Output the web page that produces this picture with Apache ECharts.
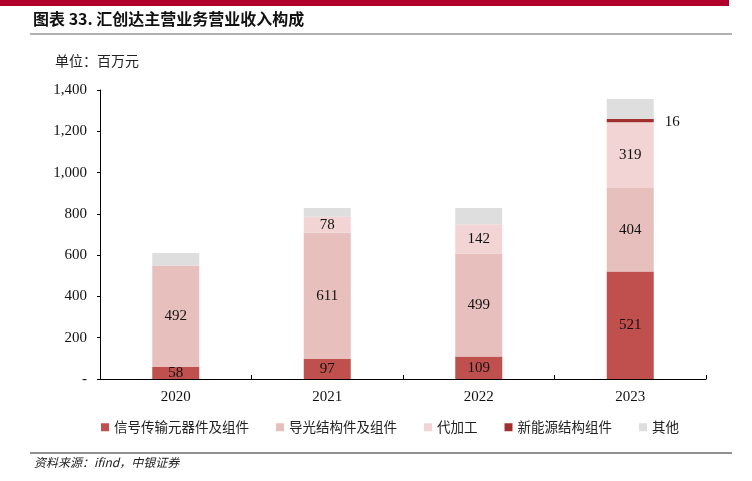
<!DOCTYPE html>
<html><head><meta charset="utf-8">
<script src="https://cdn.jsdelivr.net/npm/echarts@6/dist/echarts.min.js"></script>
<style>html,body{margin:0;padding:0;background:#fff}#c{width:752px;height:481px}</style>
</head><body><div id="c"></div>
<script>
const categories = ['2020', '2021', '2022', '2023'];
const seriesNames = ['信号传输元器件及组件', '导光结构件及组件', '代加工', '新能源结构组件', '其他'];
const signal = [58, 97, 109, 521];
const lightGuide = [492, 611, 499, 404];
const oem = [0, 78, 142, 319];
const newEnergy = [0, 0, 0, 16];
const others = [60, 42, 78, 96];
const yTicks = [0, 200, 400, 600, 800, 1000, 1200, 1400];

const colors = ['#C0504D', '#E7BFBD', '#F2D4D5', '#A0302E', '#DEDEDE'];
const serif = 'Liberation Serif';
const cjk = 'Noto Sans CJK SC';

const chart = echarts.init(document.getElementById('c'));
function lbl(pos) {
  return {
    show: true, position: pos || 'inside', color: '#111', fontFamily: serif, fontSize: 15,
    formatter: p => p.value > 0 ? p.value : ''
  };
}
const dataSets = [signal, lightGuide, oem, newEnergy, others];
const series = dataSets.map((d, i) => ({
  name: seriesNames[i], type: 'bar', stack: 'total', barWidth: 47,
  data: d, itemStyle: { color: colors[i] },
  label: i === 4 ? { show: false } : (i === 3 ? Object.assign(lbl('right'), { offset: [6, 2] }) : lbl()),
  emphasis: { disabled: true }
}));
chart.setOption({
  animation: false,
  color: colors,
  grid: { left: 100, right: 46, top: 90, bottom: 102 },
  legend: {
    bottom: 42, left: 96, itemWidth: 8, itemHeight: 8, itemGap: 27, icon: 'rect',
    textStyle: { fontFamily: cjk, fontSize: 13.5, color: '#222' },
    data: seriesNames
  },
  xAxis: {
    type: 'category', data: categories,
    axisLine: { lineStyle: { color: '#000', width: 1 } },
    axisTick: { show: true, inside: true, length: 4, lineStyle: { color: '#000' } },
    axisLabel: { fontFamily: serif, fontSize: 15, color: '#111', margin: 11 }
  },
  yAxis: {
    type: 'value', min: yTicks[0], max: yTicks[yTicks.length - 1], interval: 200,
    splitLine: { show: false },
    axisLine: { show: true, lineStyle: { color: '#000', width: 1 } },
    axisTick: { show: true, length: 3, lineStyle: { color: '#000' } },
    axisLabel: { fontFamily: serif, fontSize: 15, color: '#111', margin: 13,
      formatter: v => v === 0 ? '-' : v.toLocaleString('en-US') }
  },
  series: series,
  graphic: [
    { type: 'rect', left: 0, top: 0, shape: { width: 729, height: 6 }, style: { fill: '#B00029' } },
    { type: 'text', left: 33, top: 11, style: { text: '图表 33. 汇创达主营业务营业收入构成', fontFamily: cjk, fontWeight: 'bold', fontSize: 16, fill: '#111' } },
    { type: 'line', shape: { x1: 30, y1: 34, x2: 732, y2: 34 }, style: { stroke: '#999', lineWidth: 1.5 } },
    { type: 'text', left: 55, top: 54, style: { text: '单位：百万元', fontFamily: cjk, fontSize: 14, fill: '#222' } },
    { type: 'line', shape: { x1: 30, y1: 453, x2: 732, y2: 453 }, style: { stroke: '#222', lineWidth: 1 } },
    { type: 'text', left: 34, top: 456, style: { text: '资料来源：ifind，中银证券', fontFamily: cjk, fontStyle: 'italic', fontSize: 12, fill: '#222' } }
  ]
});
</script></body></html>
